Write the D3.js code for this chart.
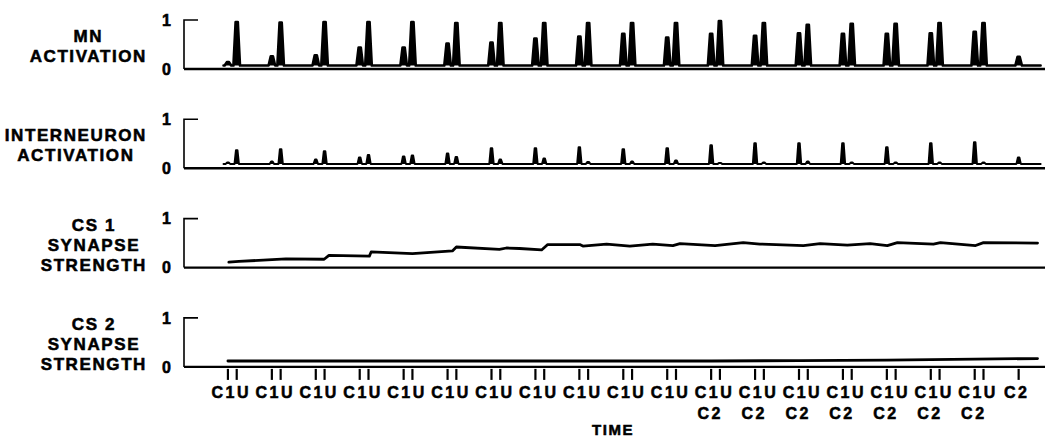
<!DOCTYPE html>
<html>
<head>
<meta charset="utf-8">
<script src="https://cdn.jsdelivr.net/npm/d3@7"></script>
<style>
  body { margin: 0; background: #fff; }
  text { font-family: "Liberation Sans", Arial, Helvetica, sans-serif; font-weight: bold; fill: #000; stroke: #000; stroke-width: 0.55px; }
</style>
</head>
<body>
<div id="chart"></div>
<script>

// trial onsets (time steps), US comes 2 steps after the CS
var trialTimes = [10, 20, 30, 40, 50, 60, 70, 80, 90, 100, 110, 120, 130, 140, 150, 160, 170, 180, 190];
var usDelay = 2;
var traceEnd = 195;

// stimulus labels under the time axis
var trialLabels = ["C1U", "C1U", "C1U", "C1U", "C1U", "C1U", "C1U", "C1U", "C1U", "C1U", "C1U",
    "C1U", "C1U", "C1U", "C1U", "C1U", "C1U", "C1U", "C2"];
var trialLabels2 = ["", "", "", "", "", "", "", "", "", "", "",
    "C2", "C2", "C2", "C2", "C2", "C2", "C2", ""];

// motor neuron peaks (CS response, US response)
var mnCS = [0.14, 0.26, 0.28, 0.44, 0.44, 0.52, 0.54, 0.62, 0.66, 0.72, 0.64, 0.72, 0.68, 0.73, 0.72, 0.72, 0.73, 0.76, 0.25];
var mnUS = [0.96, 0.95, 0.96, 0.96, 0.96, 0.94, 0.94, 0.94, 0.94, 0.94, 0.94, 0.98, 0.94, 0.90, 0.92, 0.92, 0.94, 0.94, null];
var mnRest = 0.07;

// interneuron peaks
var inCS = [0.12, 0.14, 0.18, 0.22, 0.24, 0.30, 0.41, 0.41, 0.43, 0.39, 0.41, 0.47, 0.51, 0.51, 0.51, 0.43, 0.51, 0.53, 0.22];
var inUS = [0.37, 0.39, 0.35, 0.27, 0.26, 0.23, 0.18, 0.20, 0.13, 0.14, 0.16, 0.11, 0.12, 0.14, 0.12, 0.12, 0.12, 0.12, null];
var inRest = 0.09;

// CS 1 synapse strength
var cs1Times = [10.2, 12.5, 23.2, 31.9, 33, 42.2, 42.6, 52, 61.1, 62, 71.8, 73.4, 76.4, 81.4, 82.8, 90.1, 90.8, 96.2,
    101.5, 106.7, 111.3, 112.9, 120.9, 127.3, 131.1, 141, 144.8, 151, 156.2, 160.1, 162.4, 170.6, 172.2, 180.2, 182, 194.3];
var cs1Strength = [0.11, 0.125, 0.18, 0.17, 0.25, 0.235, 0.32, 0.285, 0.34, 0.42, 0.37, 0.40, 0.39, 0.36, 0.47, 0.47, 0.44, 0.48,
    0.44, 0.48, 0.45, 0.49, 0.45, 0.51, 0.48, 0.45, 0.49, 0.46, 0.49, 0.45, 0.51, 0.48, 0.51, 0.45, 0.51, 0.50];

// CS 2 synapse strength
var cs2Times = [10, 60, 120, 140, 160, 180, 194.3];
var cs2Strength = [0.12, 0.12, 0.12, 0.13, 0.14, 0.16, 0.17];

var panelLabels = [["MN", "ACTIVATION"], ["INTERNEURON", "ACTIVATION"],
    ["CS 1", "SYNAPSE", "STRENGTH"], ["CS 2", "SYNAPSE", "STRENGTH"]];


var width = 1048,
    height = 441,
    panelTop = 20,
    panelStep = 99.3,
    panelHeight = 49;

var svg = d3.select("#chart")
    .append("svg")
    .attr("width", width)
    .attr("height", height);

// shared time axis
var x = d3.scaleLinear()
    .domain([0, 196])
    .range([184, 1045]);

// builds one trace with narrow peaks at the CS and US times
function spikeTrace(cs, us, rest, half) {
    var pts = [[trialTimes[0] - 1, rest]];
    trialTimes.forEach(function (t, i) {
        [[t, cs[i]], [t + usDelay, us[i]]].forEach(function (p) {
            if (p[1] == null) return;
            pts.push([p[0] - half, rest], [p[0] - half / 3, p[1]], [p[0] + half / 3, p[1]], [p[0] + half, rest]);
        });
    });
    pts.push([traceEnd, rest]);
    return pts;
}

var lastY;

panelLabels.forEach(function (lines, i) {
    var top = panelTop + i * panelStep;
    var y = d3.scaleLinear()
        .domain([0, 1])
        .range([top + panelHeight, top]);
    lastY = y;

    var g = svg.append("g");

    // Y axis: only 0 and 1
    g.append("g")
        .attr("transform", "translate(" + x(0) + ",0)")
        .call(d3.axisLeft(y).tickValues([0, 1]).tickSize(0).tickPadding(13).tickFormat(d3.format("d")))
        .call(function (a) { a.select(".domain").remove(); })
        .selectAll("text")
        .attr("fill", "#000")
        .style("font-size", "16px")
        .style("font-family", "'Liberation Sans', Arial, sans-serif")
        .style("font-weight", "bold");

    // bracket
    g.append("path")
        .attr("d", "M" + (x(0) + 14) + "," + y(1) + "H" + x(0) + "V" + y(0))
        .attr("fill", "none")
        .attr("stroke", "#000")
        .attr("stroke-width", 1.6);

    // zero line
    g.append("line")
        .attr("x1", x(0))
        .attr("x2", x(196))
        .attr("y1", y(0))
        .attr("y2", y(0))
        .attr("stroke", "#000")
        .attr("stroke-width", 2.4);

    // panel label, right edge of the widest line at 147
    var lab = g.append("g");
    lines.forEach(function (s, j) {
        lab.append("text")
            .attr("x", 0)
            .attr("y", top + 26 + (j - (lines.length - 1) / 2) * 20)
            .attr("dy", "0.36em")
            .attr("text-anchor", "middle")
            .style("font-size", "17px")
            .style("letter-spacing", "1.6px")
            .text(s);
    });
    var maxW = d3.max(lab.selectAll("text").nodes(), function (n) { return n.getComputedTextLength(); });
    lab.attr("transform", "translate(" + (147 - maxW / 2) + ",0)");

    var line = d3.line()
        .x(function (d) { return x(d[0]); })
        .y(function (d) { return y(d[1]); });

    var pts, rest = null;
    if (i == 0) { pts = spikeTrace(mnCS, mnUS, mnRest, 0.75); rest = mnRest; }
    if (i == 1) { pts = spikeTrace(inCS, inUS, inRest, 0.5); rest = inRest; }
    if (i == 2) pts = cs1Times.map(function (t, k) { return [t, cs1Strength[k]]; });
    if (i == 3) pts = cs2Times.map(function (t, k) { return [t, cs2Strength[k]]; });

    // solid peaks for the activation traces
    if (rest != null) {
        g.append("path")
            .datum(pts)
            .attr("d", d3.area()
                .x(function (d) { return x(d[0]); })
                .y0(y(rest))
                .y1(function (d) { return y(d[1]); }))
            .attr("fill", "#000");
    }

    g.append("path")
        .datum(pts)
        .attr("d", line)
        .attr("fill", "none")
        .attr("stroke", "#000")
        .attr("stroke-width", i == 0 ? 2.6 : (i == 1 ? 2 : 2.8))
        .attr("stroke-linejoin", "round")
        .attr("stroke-linecap", "round");
});

// stimulus ticks under the bottom panel
var base = lastY(0);
var marks = [];
trialTimes.forEach(function (t, i) {
    marks.push(t);
    if (trialLabels[i].indexOf("U") >= 0) marks.push(t + usDelay);
});
svg.selectAll("tickmarks")
    .data(marks)
    .enter()
    .append("line")
    .attr("x1", function (d) { return x(d); })
    .attr("x2", function (d) { return x(d); })
    .attr("y1", base + 2)
    .attr("y2", base + 13)
    .attr("stroke", "#000")
    .attr("stroke-width", 2.2);

// stimulus labels
svg.selectAll("stimlabel")
    .data(trialTimes)
    .enter()
    .append("text")
    .attr("x", function (d, i) { return trialLabels[i] == "C2" ? x(d) - 2 : x(d + usDelay / 2) - 1; })
    .attr("y", base + 31)
    .attr("text-anchor", "middle")
    .style("font-size", "16px")
    .style("letter-spacing", "2.5px")
    .text(function (d, i) { return trialLabels[i]; });

svg.selectAll("stimlabel2")
    .data(trialTimes)
    .enter()
    .append("text")
    .attr("x", function (d) { return x(d + usDelay / 2) - 18; })
    .attr("y", base + 52)
    .style("font-size", "16px")
    .style("letter-spacing", "2.5px")
    .text(function (d, i) { return trialLabels2[i]; });

svg.append("text")
    .attr("x", 613)
    .attr("y", base + 68)
    .attr("text-anchor", "middle")
    .style("font-size", "15px")
    .style("letter-spacing", "1.5px")
    .text("TIME");

</script>
</body>
</html>
